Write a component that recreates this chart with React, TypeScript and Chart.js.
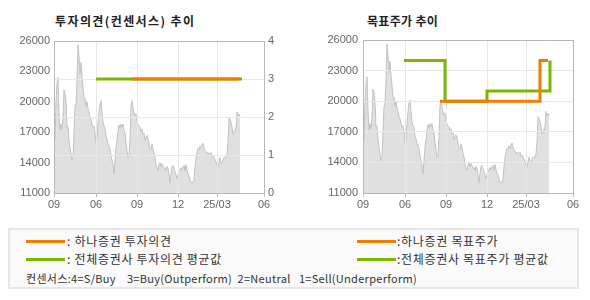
import React, { useEffect, useRef } from 'react';
import { Chart, registerables } from 'chart.js';

Chart.register(...registerables);

// ---- data ----
const xTickPositions = [0, 42, 83, 124, 163, 210];
const xTickLabels = ['09', '06', '09', '12', '25/03', '06'];

const priceValues = [
  15800, 16500, 20000, 21800, 22400, 19000, 17200, 17800, 17300, 18500,
  21200, 20800, 20000, 17500, 17600, 16200, 15500, 14800, 14200, 14500,
  17000, 19500, 19800, 22000, 25600, 24500, 22800, 23900, 22500, 21500,
  20500, 20300, 19500, 20000, 19300, 19000, 18500, 18300, 17800, 17500,
  17600, 17000, 15900, 16500, 17800, 19000, 19800, 20100, 19000, 18000,
  17600, 17400, 16600, 16300, 15800, 15700, 15400, 14700, 14200, 13800,
  12900, 14200, 15500, 16200, 17200, 17700, 17400, 17800, 17500, 17800,
  17200, 16900, 16000, 15200, 14500, 14600, 16500, 19600, 20100, 19400,
  19000, 18600, 18800, 18000, 17800, 17600, 17500, 17100, 17300, 16800,
  16900, 16200, 16500, 16700, 16400, 15800, 15200, 15300, 15800, 15400,
  14900, 14500, 13800, 13500, 13200, 13800, 14000, 13600, 13900, 13700,
  13400, 13500, 13200, 13600, 13400, 12800, 12000, 12900, 13600, 13700,
  13400, 13100, 12800, 12400, 12800, 13300, 13200, 13500, 13300, 13600,
  13700, 13200, 13800, 13300, 12900, 12700, 12300, 12000, 12100, 12000,
  12300, 13600, 14500, 15000, 15400, 15300, 15600, 15400, 15700, 15900,
  15500, 15200, 15100, 14900, 15000, 14800, 14900, 15000, 14600, 14700,
  14500, 14300, 14100, 13700, 13500, 14000, 14500, 14000, 13900, 14300,
  14500, 14400, 14700, 14800, 16000, 18500, 18300, 18000, 17500, 16800,
  17000, 17200, 17500, 19000, 18600, 18800, 18600,
];

const opinionHanaX = [77, 185];
const opinionHanaY = [3, 3];
const opinionAvgX = [42, 188];
const opinionAvgY = [3, 3];

const targetHanaX = [77, 177, 185];
const targetHanaY = [20000, 24000, 24000];
const targetAvgX = [41, 82, 124, 187];
const targetAvgY = [24000, 20000, 21000, 24000];

const priceMin = 11000;
const priceMax = 26000;
const priceStep = 3000;
const opinionMin = 0;
const opinionMax = 4;
const opinionStep = 1;
const xMax = 210;

// ---- styles ----
const ORANGE = '#f57a00';
const GREEN = '#7ab800';
const GRID = '#e8e8e8';
const BORDER = '#b8b8b8';
const AREA_FILL = '#e0e0e0';
const AREA_LINE = '#c2c2c2';
const TICK_COLOR = '#666666';
const TICK_FONT = { family: "'Liberation Sans', Arial, sans-serif", size: 11 };
const KR = "'Noto Sans CJK KR', 'Noto Sans', sans-serif";

const gridOverArea = {
  id: 'gridOverArea',
  afterDatasetDraw(chart: any, args: any) {
    const ds = chart.data.datasets[args.index];
    if (ds.label !== 'price') return;
    chart.ctx.save();
    Object.values(chart.scales).forEach((s: any) => {
      if (s.options.grid && s.options.grid.display) s.drawGrid(chart.chartArea);
    });
    chart.ctx.restore();
  },
};

function xScale() {
  return {
    type: 'linear',
    min: 0,
    max: xMax,
    afterBuildTicks: (s: any) => {
      s.ticks = xTickPositions.map((v) => ({ value: v }));
    },
    ticks: {
      callback: (_v: any, i: number) => xTickLabels[i],
      autoSkip: false,
      maxRotation: 0,
      padding: 1,
      color: TICK_COLOR,
      font: TICK_FONT,
    },
    grid: {
      color: (c: any) => (c.tick && (c.tick.value === 0 || c.tick.value === xMax) ? BORDER : GRID),
      lineWidth: 1,
      drawTicks: true,
      tickLength: 4,
      tickColor: BORDER,
    },
    border: { display: true, color: BORDER, z: 1 },
    afterFit: (s: any) => {
      s.height = 27;
    },
  };
}

function priceDataset() {
  return {
    label: 'price',
    data: priceValues.map((v, i) => ({ x: i, y: v })),
    borderColor: AREA_LINE,
    borderWidth: 1,
    backgroundColor: AREA_FILL,
    fill: 'start',
    pointRadius: 0,
    yAxisID: 'y',
    order: 3,
  };
}

function lineDataset(label: string, xs: number[], ys: number[], color: string, axis: string, order: number, stepped: any) {
  return {
    label,
    data: xs.map((x, i) => ({ x, y: ys[i] })),
    borderColor: color,
    backgroundColor: color,
    borderWidth: 3,
    borderJoinStyle: 'miter',
    borderCapStyle: 'butt',
    fill: false,
    pointRadius: 0,
    stepped,
    yAxisID: axis,
    order,
  };
}

function opinionConfig(): any {
  return {
    type: 'line',
    data: {
      datasets: [
        lineDataset('하나증권 투자의견', opinionHanaX, opinionHanaY, ORANGE, 'y1', 1, false),
        lineDataset('전체증권사 투자의견 평균값', opinionAvgX, opinionAvgY, GREEN, 'y1', 2, false),
        priceDataset(),
      ],
    },
    options: {
      responsive: false,
      animation: false,
      layout: { padding: { top: 41, left: 0, right: 0, bottom: 0 } },
      plugins: { legend: { display: false }, tooltip: { enabled: false } },
      scales: {
        x: xScale(),
        y: {
          position: 'left',
          min: priceMin,
          max: priceMax,
          ticks: { stepSize: priceStep, callback: (v: any) => String(v), padding: 4, color: TICK_COLOR, font: TICK_FONT },
          grid: { display: false, drawTicks: false },
          border: { display: true, color: BORDER, z: 1 },
          afterFit: (s: any) => {
            s.width = 54;
          },
        },
        y1: {
          position: 'right',
          min: opinionMin,
          max: opinionMax,
          ticks: { stepSize: opinionStep, callback: (v: any) => String(v), padding: 4, color: TICK_COLOR, font: TICK_FONT },
          grid: {
            drawTicks: false,
            lineWidth: 1,
            color: (c: any) => (c.tick && (c.tick.value === opinionMax || c.tick.value === opinionMin) ? BORDER : GRID),
          },
          border: { display: true, color: BORDER, z: 1 },
          afterFit: (s: any) => {
            s.width = 31;
          },
        },
      },
    },
    plugins: [gridOverArea],
  };
}

function targetConfig(): any {
  return {
    type: 'line',
    data: {
      datasets: [
        lineDataset('하나증권 목표주가', targetHanaX, targetHanaY, ORANGE, 'y', 1, 'before'),
        lineDataset('전체증권사 목표주가 평균값', targetAvgX, targetAvgY, GREEN, 'y', 2, 'before'),
        priceDataset(),
      ],
    },
    options: {
      responsive: false,
      animation: false,
      layout: { padding: { top: 40, left: 0, right: 17, bottom: 0 } },
      plugins: { legend: { display: false }, tooltip: { enabled: false } },
      scales: {
        x: xScale(),
        y: {
          position: 'left',
          min: priceMin,
          max: priceMax,
          ticks: { stepSize: priceStep, callback: (v: any) => String(v), padding: 5, color: TICK_COLOR, font: TICK_FONT },
          grid: {
            drawTicks: false,
            lineWidth: 1,
            color: (c: any) => (c.tick && (c.tick.value === priceMax || c.tick.value === priceMin) ? BORDER : GRID),
          },
          border: { display: true, color: BORDER, z: 1 },
          afterFit: (s: any) => {
            s.width = 68;
          },
        },
      },
    },
    plugins: [gridOverArea],
  };
}

function ChartCanvas({ make, left }: { make: () => any; left: number }) {
  const ref = useRef<HTMLCanvasElement>(null);
  useEffect(() => {
    if (!ref.current) return;
    const chart = new Chart(ref.current, make());
    return () => chart.destroy();
  }, [make]);
  return (
    <canvas
      ref={ref}
      width={295}
      height={220}
      style={{ position: 'absolute', left, top: 0, width: 295, height: 220, display: 'block' }}
    />
  );
}

const titleStyle: React.CSSProperties = {
  position: 'absolute',
  top: 12,
  fontFamily: KR,
  fontWeight: 700,
  fontSize: 12,
  lineHeight: '18px',
  color: '#222',
  whiteSpace: 'pre',
};

const legendText: React.CSSProperties = {
  position: 'absolute',
  fontFamily: KR,
  fontSize: 12,
  letterSpacing: 0.7,
  lineHeight: '16px',
  color: '#333',
  whiteSpace: 'pre',
};

function Swatch({ x, y, color }: { x: number; y: number; color: string }) {
  return <div style={{ position: 'absolute', left: x, top: y - 1, width: 39, height: 3, background: color }} />;
}

export default function App() {
  return (
    <div style={{ position: 'absolute', left: 0, top: 0, width: 590, height: 300, background: '#fff', overflow: 'hidden' }}>
      <div style={{ ...titleStyle, left: 55, letterSpacing: 1.4 }}>투자의견(컨센서스) 추이</div>
      <div style={{ ...titleStyle, left: 367, letterSpacing: 0.3 }}>목표주가 추이</div>
      <ChartCanvas make={opinionConfig} left={0} />
      <ChartCanvas make={targetConfig} left={295} />
      <div
        style={{
          position: 'absolute',
          left: 8,
          top: 228,
          width: 571,
          height: 61,
          boxSizing: 'border-box',
          border: '2px solid #e6e6e6',
          background: '#fafafa',
        }}
      />
      <Swatch x={26} y={241} color={ORANGE} />
      <div style={{ ...legendText, left: 67, top: 233 }}>: 하나증권 투자의견</div>
      <Swatch x={26} y={259} color={GREEN} />
      <div style={{ ...legendText, left: 67, top: 251 }}>: 전체증권사 투자의견 평균값</div>
      <Swatch x={357} y={241} color={ORANGE} />
      <div style={{ ...legendText, left: 397, top: 233 }}>:하나증권 목표주가</div>
      <Swatch x={357} y={259} color={GREEN} />
      <div style={{ ...legendText, left: 397, top: 251 }}>:전체증권사 목표주가 평균값</div>
      <div style={{ ...legendText, left: 26, top: 270, fontSize: 11, letterSpacing: 0.3 }}>
        {'컨센서스:4=S/Buy    3=Buy(Outperform)  2=Neutral   1=Sell(Underperform)'}
      </div>
    </div>
  );
}
